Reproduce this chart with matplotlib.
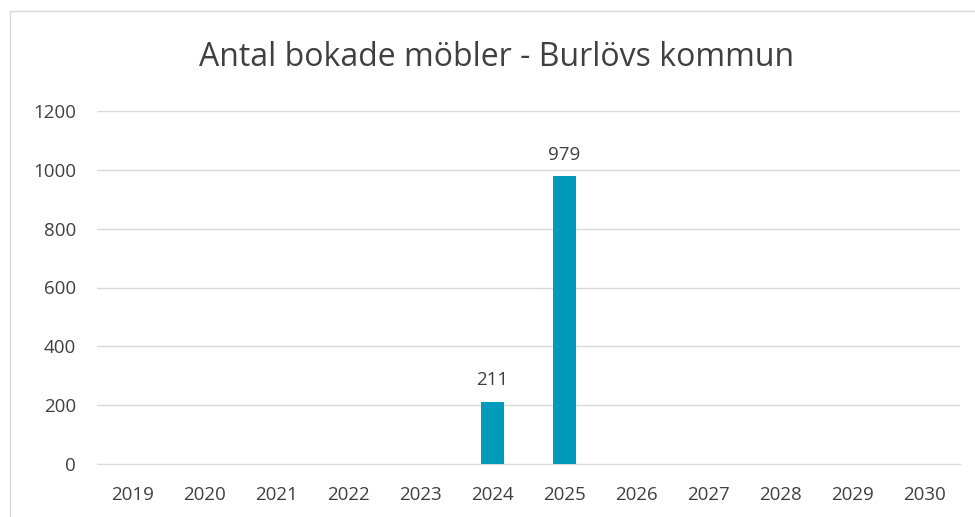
import matplotlib
matplotlib.use("Agg")
import matplotlib.pyplot as plt
from matplotlib.patches import Rectangle
import numpy as np

years = ["2019", "2020", "2021", "2022", "2023", "2024", "2025", "2026", "2027", "2028", "2029", "2030"]
values = [None, None, None, None, None, 211, 979, None, None, None, None, None]
yticks = [0, 200, 400, 600, 800, 1000, 1200]

plt.rcParams['font.family'] = ['Open Sans', 'DejaVu Sans']
W, H = 975, 517
fig = plt.figure(figsize=(W/100, H/100), dpi=100)
fig.patch.set_facecolor('white')

# chart border
fig.patches.append(Rectangle((9.5/W, -0.1), 2, 1 - 10.5/H + 0.1, transform=fig.transFigure,
                             fill=False, edgecolor='#D9D9D9', linewidth=1))

ax = fig.add_axes([97/W, 1 - 464/H, (960-97)/W, (464-111)/H])
x = np.arange(len(years))
vals = np.array([np.nan if v is None else v for v in values], dtype=float)
mask = ~np.isnan(vals)
bars = ax.bar(x[mask], vals[mask], width=0.31, color='#009BBB', zorder=3)
for xi, v in zip(x[mask], vals[mask]):
    ax.annotate(f"{int(v)}", (xi, v), xytext=(0, 9), textcoords='offset points',
                ha='center', va='bottom', fontsize=13.5, color='#404040')

ax.set_xlim(-0.5, len(years) - 0.5)
ax.set_ylim(0, 1200)
ax.set_yticks(yticks)
ax.set_xticks(x)
ax.set_xticklabels(years)
ax.tick_params(axis='both', length=0, labelsize=13.5, labelcolor='#404040')
ax.tick_params(axis='y', pad=15)
ax.tick_params(axis='x', pad=16)
ax.grid(axis='y', color='#D9D9D9', linewidth=1, zorder=0)
for s in ['top', 'right', 'left']:
    ax.spines[s].set_visible(False)
ax.spines['bottom'].set_color('#D9D9D9')

fig.text(497/W, 1 - 57/H, "Antal bokade möbler - Burlövs kommun", ha='center', va='center',
         fontsize=23, color='#404040')

fig.savefig("out.png", dpi=100)
